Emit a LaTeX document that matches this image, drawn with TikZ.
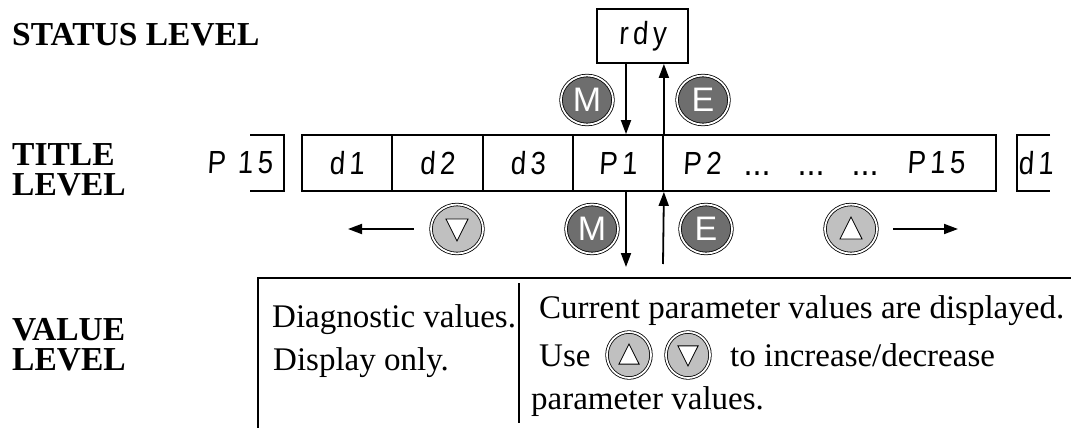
\documentclass[tikz,border=0pt]{standalone}
\usepackage{fontspec}
\setmainfont{Liberation Serif}
\newfontfamily\lcdfont[FakeSlant=0.06,FakeStretch=0.86,LetterSpace=14]{Liberation Sans}
\newfontfamily\lcddots[FakeStretch=0.9]{Liberation Sans}
\newfontfamily\btnfontfam{Liberation Sans}
\usetikzlibrary{shapes.geometric,arrows.meta,calc}
\definecolor{btndark}{HTML}{6E6E6E}
\definecolor{btnlight}{HTML}{C0C0C0}
\begin{document}
\begin{tikzpicture}[x=1pt,y=-1pt,
 lvl/.style={font=\fontsize{33.5}{30.5}\selectfont\bfseries, inner sep=0pt, anchor=north west, align=left},
 txt/.style={font=\fontsize{33}{36}\selectfont, inner sep=0pt, anchor=base west},
 lcd/.style={font=\lcdfont\fontsize{32}{32}\selectfont},
 dots/.style={font=\lcddots\fontsize{36}{36}\selectfont, inner sep=0pt, anchor=base},
 cell/.style={draw, line width=1.8pt, minimum height=56pt, inner sep=0pt, lcd},
 frame/.style={line width=1.8pt},
 arr/.style={line width=1.8pt, -{Triangle[length=14pt,width=10pt]}},
 btn/.style={ellipse, draw=black, double=white, double distance=1.8pt, line width=0.8pt,
   minimum width=52pt, minimum height=49pt, inner sep=0pt, text=white,
   font=\btnfontfam\fontsize{34}{34}\selectfont},
 sbtn/.style={btn, minimum width=44pt, minimum height=46pt},
 dkbtn/.style={btn, fill=btndark},
 uptri/.style={fill=btnlight, path picture={\draw[fill=white,line width=0.8pt]
   ([shift={(0,-#1)}]path picture bounding box.center) --
   ([shift={(#1*0.92,#1*0.83)}]path picture bounding box.center) --
   ([shift={(-#1*0.92,#1*0.83)}]path picture bounding box.center) -- cycle;}},
 dntri/.style={fill=btnlight, path picture={\draw[fill=white,line width=0.8pt]
   ([shift={(0,#1)}]path picture bounding box.center) --
   ([shift={(#1*0.92,-#1*0.83)}]path picture bounding box.center) --
   ([shift={(-#1*0.92,-#1*0.83)}]path picture bounding box.center) -- cycle;}}
]
\useasboundingbox (0,0) rectangle (1071,428);

% level labels
\node[lvl] (stl) at (12,23) {STATUS LEVEL};
\node[lvl] (tl) at (12,143) {TITLE\\LEVEL};
\node[lvl] (vl) at (12,318) {VALUE\\LEVEL};

% status box
\node[cell, minimum width=91pt, minimum height=54pt] (rdy) at (642.5,36) {rdy};

% title cells
\node[cell, minimum width=90pt] (c1) at (347,163) {d1};
\node[cell, minimum width=91pt] (c2) at (437.5,163) {d2};
\node[cell, minimum width=90pt] (c3) at (528,163) {d3};
\node[cell, minimum width=90pt] (c4) at (618,163) {P1};
\node[cell, minimum width=333pt] (c5) at (829.5,163) {};
\node[lcd, inner sep=0pt] (p2) at (702,163) {P2};
\node[dots] (dt1) at (757,175) {...};
\node[dots] (dt2) at (811,175) {...};
\node[dots] (dt3) at (865,175) {...};
\node[lcd, inner sep=0pt] (p15) at (936,163) {P15};

% partial boxes at both ends
\node[lcd, inner sep=0pt] (pl) at (240,163) {P 15};
\draw[frame] (250,135) -- (284,135) -- (284,191) -- (250,191);
\node[lcd, inner sep=0pt] (dr) at (1036,163) {d1};
\draw[frame] (1050,135) -- (1017,135) -- (1017,191) -- (1050,191);

% status <-> title
\node[dkbtn] (m1) at (587,100) {M};
\node[dkbtn] (e1) at (703,100) {E};
\coordinate (dtop) at ([xshift=-16.5pt]rdy.south);
\draw[arr] (dtop) -- (dtop |- c4.north);
\draw[arr] (c4.north east) -- (c4.north east |- rdy.south);

% title navigation
\node[btn, dntri=12] (dn1) at (457,229) {};
\node[dkbtn] (m2) at (592,229) {M};
\node[dkbtn] (e2) at (706,229) {E};
\node[btn, uptri=12] (up1) at (851,229) {};
\coordinate (lend) at (348,229);
\coordinate (rend) at (958,229);
\draw[arr] ([xshift=-17pt]dn1.west) -- (lend);
\draw[arr] ([xshift=16pt]up1.east) -- (rend);
\coordinate (dbot) at (626,267);
\coordinate (ubot) at (663,264);
\draw[arr] (dbot |- c4.south) -- (dbot);
\draw[arr] (ubot) -- (c4.south east);

% value level frame
\draw[frame] (258,428) -- (258,278) -- (1071,278);
\draw[frame] (519,283) -- (519,423);

\node[txt] (dv) at (272,327) {Diagnostic values.};
\node[txt] (do) at (273,370) {Display only.};
\node[txt] (cp) at (539,318) {Current parameter values are displayed.};
\node[txt] (use) at (539,366) {Use};
\node[sbtn, uptri=11] (up2) at (629,355) {};
\node[sbtn, dntri=11] (dn2) at (688,355) {};
\node[txt] (inc) at (730,366) {to increase/decrease};
\node[txt] (pv) at (531,409) {parameter values.};
\end{tikzpicture}
\end{document}
